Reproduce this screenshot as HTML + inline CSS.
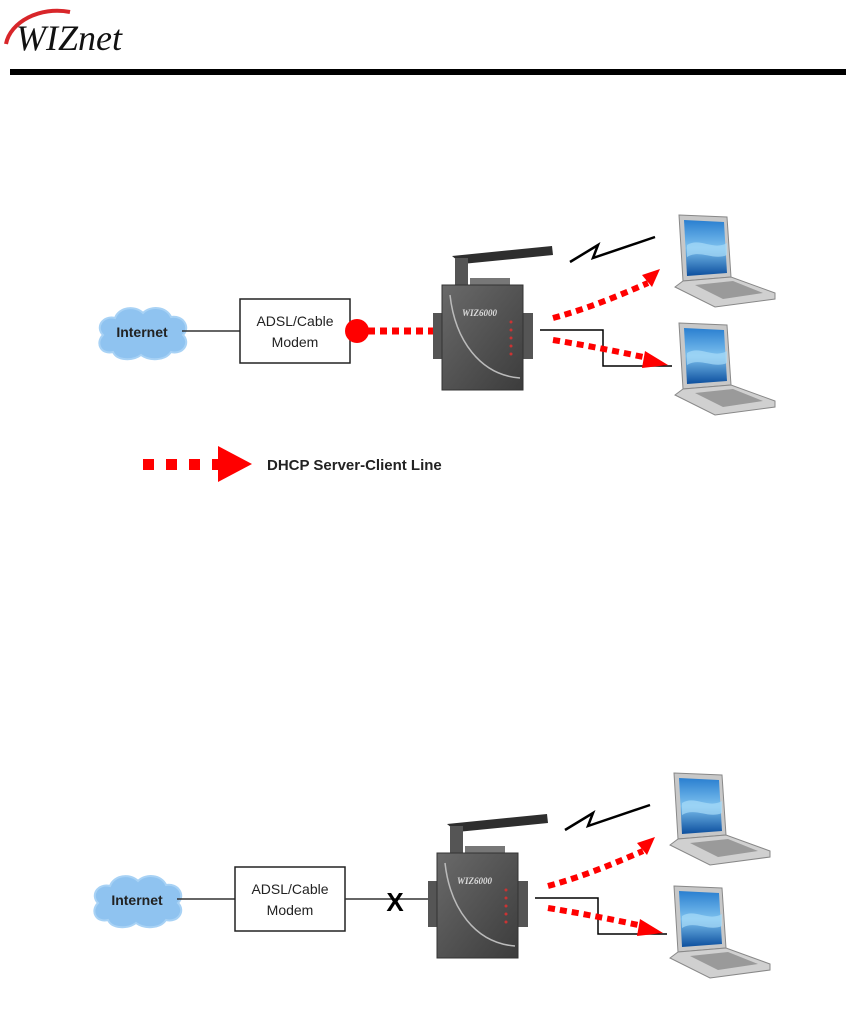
<!DOCTYPE html>
<html><head><meta charset="utf-8"><style>
html,body{margin:0;padding:0;background:#fff;}
svg{display:block;font-family:"Liberation Sans",sans-serif;}
</style></head><body>
<svg width="856" height="1027" viewBox="0 0 856 1027" xmlns="http://www.w3.org/2000/svg">
<defs>
<linearGradient id="scr" x1="0" y1="0" x2="0" y2="1"><stop offset="0" stop-color="#2a7fd0"/><stop offset="0.5" stop-color="#7cc0ee"/><stop offset="1" stop-color="#0c4f9e"/></linearGradient>
<linearGradient id="dev" x1="0" y1="0" x2="1" y2="1"><stop offset="0" stop-color="#6a6a6a"/><stop offset="1" stop-color="#3c3c3c"/></linearGradient>
<g id="cloud"><path d="M8,30 C0,22 8,10 20,13 C24,2 40,0 48,8 C56,0 72,2 76,12 C88,10 96,22 88,30 C96,38 88,50 76,47 C70,56 54,56 46,50 C38,56 22,56 18,47 C6,50 0,38 8,30Z" fill="#8fc3f0" stroke="#a8d2f5" stroke-width="2"/></g>
<g id="laptop">
 <path d="M4,0 L52,2 L56,62 L8,66Z" fill="#c8c8c8" stroke="#888"/>
 <path d="M9,5 L49,7 L52,58 L12,61Z" fill="url(#scr)"/>
 <path d="M12,30 C25,22 38,36 52,28 L52,40 C38,46 25,34 12,42Z" fill="#a8dcf8" opacity="0.7"/>
 <path d="M8,66 L56,62 L100,78 L100,84 L40,92 L0,72Z" fill="#d0d0d0" stroke="#888"/>
 <path d="M20,70 L58,66 L88,78 L48,84Z" fill="#9a9a9a"/>
</g>
<g id="device">
 <rect x="433" y="313" width="100" height="46" fill="#555"/>
 <path d="M452,256 L552,246 L553,255 L462,264Z" fill="#2e2e2e"/>
 <rect x="455" y="258" width="13" height="27" fill="#555"/>
 <rect x="470" y="278" width="40" height="9" fill="#777"/>
 <rect x="442" y="285" width="81" height="105" fill="url(#dev)" stroke="#333"/>
 <text x="462" y="316" font-family="Liberation Serif,serif" font-style="italic" font-weight="bold" font-size="9" fill="#ddd">WIZ6000</text>
 <path d="M450,295 C455,340 480,375 520,378" stroke="#bbb" fill="none" stroke-width="1.5"/>
 <g fill="#c33"><circle cx="511" cy="322" r="1.5"/><circle cx="511" cy="330" r="1.5"/><circle cx="511" cy="338" r="1.5"/><circle cx="511" cy="346" r="1.5"/><circle cx="511" cy="354" r="1.5"/></g>
</g>
</defs>

<!-- header -->
<path d="M6,44 C10,22 40,6 70,12" stroke="#d8262a" stroke-width="4" fill="none"/>
<text x="16" y="50" font-family="Liberation Serif,serif" font-style="italic" font-size="36" fill="#111">WIZnet</text>
<rect x="10" y="69" width="836" height="6" fill="#000"/>

<!-- top diagram -->
<use href="#cloud" transform="translate(95,305)"/>
<text x="142" y="337" font-size="14" font-weight="bold" text-anchor="middle" fill="#222">Internet</text>
<line x1="182" y1="331" x2="240" y2="331" stroke="#333" stroke-width="1.5"/>
<rect x="240" y="299" width="110" height="64" fill="#fff" stroke="#222" stroke-width="1.5"/>
<text x="295" y="326" font-size="14" text-anchor="middle" fill="#222">ADSL/Cable</text>
<text x="295" y="347" font-size="14" text-anchor="middle" fill="#222">Modem</text>
<circle cx="357" cy="331" r="12" fill="#f00"/>
<line x1="368" y1="331" x2="434" y2="331" stroke="#f00" stroke-width="7" stroke-dasharray="7,5"/>
<use href="#device"/>
<path d="M570,262 L598,245 L593,258 L655,237" stroke="#000" stroke-width="2.5" fill="none"/>
<path d="M540,330 L603,330 L603,366 L672,366" stroke="#000" stroke-width="1.5" fill="none"/>
<path d="M553,318 C590,308 620,295 648,283" stroke="#f00" stroke-width="6" fill="none" stroke-dasharray="7,5"/>
<path d="M642,275 L660,269 L652,287Z" fill="#f00"/>
<path d="M553,340 C590,346 620,352 648,358" stroke="#f00" stroke-width="6" fill="none" stroke-dasharray="7,5"/>
<path d="M645,351 L668,365 L642,368Z" fill="#f00"/>
<use href="#laptop" transform="translate(675,215)"/>
<use href="#laptop" transform="translate(675,323)"/>

<!-- legend -->
<g fill="#f00"><rect x="143" y="459" width="11" height="11"/><rect x="166" y="459" width="11" height="11"/><rect x="189" y="459" width="11" height="11"/><rect x="212" y="459" width="10" height="11"/><path d="M218,446 L252,464 L218,482Z"/></g>
<text x="267" y="470" font-size="15" font-weight="bold" fill="#222">DHCP Server-Client Line</text>

<!-- bottom diagram -->
<g transform="translate(-5,568)">
<use href="#cloud" transform="translate(95,305)"/>
<text x="142" y="337" font-size="14" font-weight="bold" text-anchor="middle" fill="#222">Internet</text>
<line x1="182" y1="331" x2="240" y2="331" stroke="#333" stroke-width="1.5"/>
<rect x="240" y="299" width="110" height="64" fill="#fff" stroke="#222" stroke-width="1.5"/>
<text x="295" y="326" font-size="14" text-anchor="middle" fill="#222">ADSL/Cable</text>
<text x="295" y="347" font-size="14" text-anchor="middle" fill="#222">Modem</text>
<line x1="350" y1="331" x2="438" y2="331" stroke="#333" stroke-width="1.5"/>
<text x="400" y="343" font-size="26" font-weight="bold" text-anchor="middle" fill="#000">X</text>
<use href="#device"/>
<path d="M570,262 L598,245 L593,258 L655,237" stroke="#000" stroke-width="2.5" fill="none"/>
<path d="M540,330 L603,330 L603,366 L672,366" stroke="#000" stroke-width="1.5" fill="none"/>
<path d="M553,318 C590,308 620,295 648,283" stroke="#f00" stroke-width="6" fill="none" stroke-dasharray="7,5"/>
<path d="M642,275 L660,269 L652,287Z" fill="#f00"/>
<path d="M553,340 C590,346 620,352 648,358" stroke="#f00" stroke-width="6" fill="none" stroke-dasharray="7,5"/>
<path d="M645,351 L668,365 L642,368Z" fill="#f00"/>
<use href="#laptop" transform="translate(675,205)"/>
<use href="#laptop" transform="translate(675,318)"/>
</g>
</svg>
</body></html>
